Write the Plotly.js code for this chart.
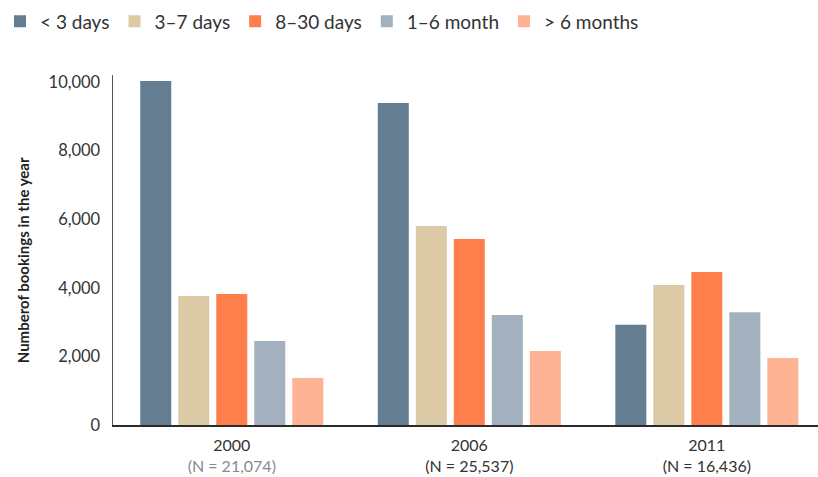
<!DOCTYPE html>
<html>
<head>
<meta charset="utf-8">
<script src="https://cdn.plot.ly/plotly-3.0.1.min.js"></script>
<style>
  html, body { margin: 0; padding: 0; background: #ffffff; }
  #chart { width: 818px; height: 477px; }
</style>
</head>
<body>
<div id="chart"></div>
<script>
// Bookings per year, split by length of booking
const years = ["2000", "2006", "2011"];
const sampleSizes = ["21,074", "25,537", "16,436"];
const seriesNames = ["< 3 days", "3\u20137 days", "8\u201330 days", "1\u20136 month", "> 6 months"];
const lessThan3Days = [10030, 9390, 2920];
const days3to7 = [3760, 5800, 4080];
const days8to30 = [3820, 5420, 4460];
const months1to6 = [2450, 3210, 3290];
const moreThan6Months = [1370, 2160, 1950];
const yTickValues = [0, 2000, 4000, 6000, 8000, 10000];
const yTickLabels = ["0", "2,000", "4,000", "6,000", "8,000", "10,000"];

const seriesValues = [lessThan3Days, days3to7, days8to30, months1to6, moreThan6Months];
const seriesColors = ["#657d91", "#dccaa6", "#fe7f4c", "#a3b0bd", "#feb394"];
const sampleColors = ["#8a8a8a", "#333333", "#333333"];

const traces = seriesNames.map((name, i) => ({
  type: "bar",
  name: name,
  x: years,
  y: seriesValues[i],
  marker: { color: seriesColors[i], line: { width: 0 } },
  hoverinfo: "x+y+name"
}));

const xTickText = years.map((yr, i) =>
  yr + '<br><span style="color:' + sampleColors[i] + '">(N = ' + sampleSizes[i] + ')</span>'
);

const font = "Lato, 'Open Sans', sans-serif";

const layout = {
  width: 818,
  height: 477,
  margin: { l: 113, r: 0, t: 75, b: 52 },
  paper_bgcolor: "#ffffff",
  plot_bgcolor: "#ffffff",
  font: { family: font, color: "#333333", size: 16 },
  barmode: "group",
  bargap: 0.2,
  bargroupgap: 0.184,
  showlegend: true,
  legend: {
    orientation: "h",
    x: -0.01, xref: "container", xanchor: "left",
    y: 0.995, yref: "container", yanchor: "top",
    font: { family: font, size: 19, color: "#333333" },
    itemsizing: "constant",
    traceorder: "normal",
    tracegroupgap: 0
  },
  xaxis: {
    type: "category",
    range: [-0.5, 2.468],
    tickmode: "array",
    tickvals: years,
    ticktext: xTickText,
    ticks: "",
    showline: true,
    linecolor: "#2b2b2b",
    linewidth: 2,
    showgrid: false,
    zeroline: false,
    tickfont: { family: font, size: 16, color: "#333333" },
    ticklabelstandoff: 5,
    fixedrange: true
  },
  yaxis: {
    range: [0, 10204],
    tickmode: "array",
    tickvals: yTickValues,
    ticktext: yTickLabels,
    ticks: "",
    showline: true,
    linecolor: "#555555",
    linewidth: 1.5,
    showgrid: false,
    zeroline: false,
    tickfont: { family: font, size: 16.5, color: "#333333" },
    ticklabelstandoff: 8,
    fixedrange: true
  },
  annotations: [{
    text: "<b>Numberof bookings in the year</b>",
    xref: "paper", yref: "paper",
    x: -0.128, y: 0.47,
    xanchor: "center", yanchor: "middle",
    textangle: -90,
    showarrow: false,
    font: { family: font, size: 15, color: "#222222" }
  }]
};

Plotly.newPlot("chart", traces, layout, { displayModeBar: false, staticPlot: true });
</script>
</body>
</html>
